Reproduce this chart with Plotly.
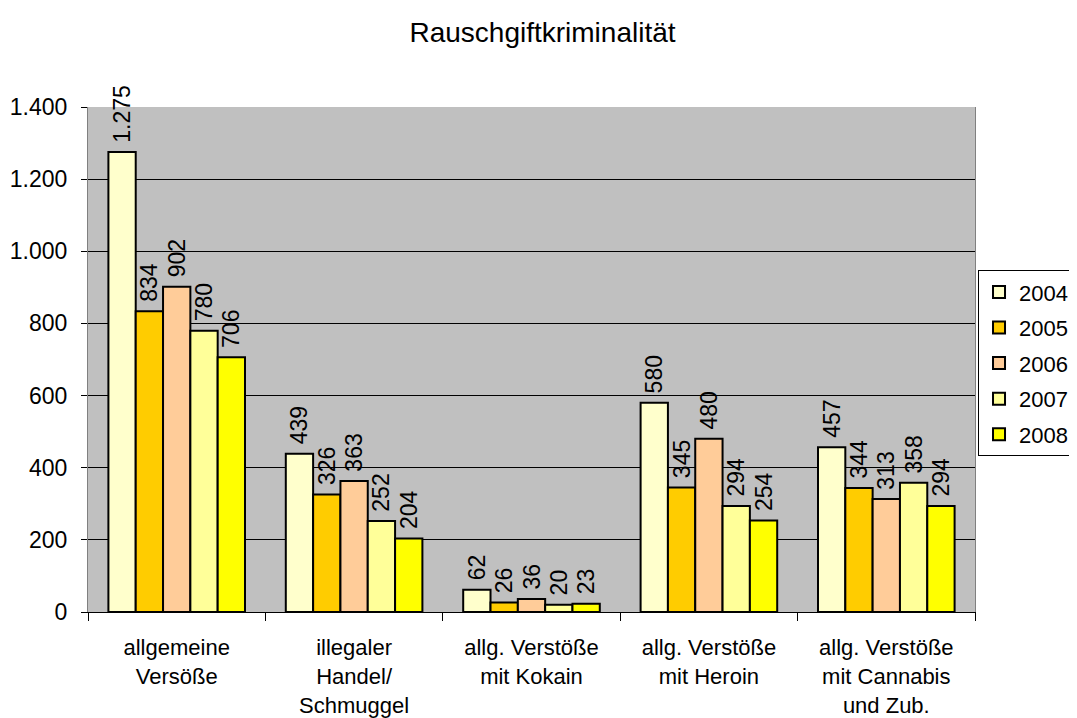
import plotly.graph_objects as go

categories = ["allgemeine<br>Versöße", "illegaler<br>Handel/<br>Schmuggel",
              "allg. Verstöße<br>mit Kokain", "allg. Verstöße<br>mit Heroin",
              "allg. Verstöße<br>mit Cannabis<br>und Zub."]
years = ["2004", "2005", "2006", "2007", "2008"]
values = {
    "2004": [1275, 439, 62, 580, 457],
    "2005": [834, 326, 26, 345, 344],
    "2006": [902, 363, 36, 480, 313],
    "2007": [780, 252, 20, 294, 358],
    "2008": [706, 204, 23, 254, 294],
}
colors = {"2004": "#FFFFCC", "2005": "#FFCC00", "2006": "#FFCC99",
          "2007": "#FFFF99", "2008": "#FFFF00"}

FONT = "Liberation Sans, Arial, sans-serif"
fig = go.Figure()
for y in years:
    fig.add_trace(go.Bar(
        name=y, x=categories, y=values[y], legendgroup=y,
        marker=dict(color=colors[y], line=dict(color="black", width=2)),
        text=values[y], texttemplate="\u00a0%{y:,}", textposition="outside",
        textangle=-90, cliponaxis=False, constraintext="none",
        textfont=dict(size=23, color="black", family=FONT),
    ))

# page body has an 8px margin, so the figure is sized/offset to compensate
fig.update_layout(
    width=1069, height=710,
    separators=",.",
    barmode="group", bargap=0.23, bargroupgap=0,
    plot_bgcolor="#C0C0C0", paper_bgcolor="white",
    font=dict(family=FONT, size=22, color="black"),
    title=dict(text="Rauschgiftkriminalität", x=0.5, xanchor="center",
               y=0.966, yanchor="middle", font=dict(size=28)),
    margin=dict(l=80, r=102, t=99, b=106, autoexpand=False),
    legend=dict(x=1.0034, y=0.677, xanchor="left", yanchor="top",
                bgcolor="white", bordercolor="black", borderwidth=1,
                font=dict(size=22), traceorder="grouped", tracegroupgap=4),
    xaxis=dict(showline=True, linecolor="black", linewidth=1,
               ticks="outside", tickson="boundaries", ticklen=8,
               tickcolor="black", showgrid=False, ticklabelstandoff=16,
               tickfont=dict(size=22)),
    yaxis=dict(range=[0, 1400], dtick=200, tickformat=",",
               showgrid=True, gridcolor="black", gridwidth=1,
               showline=True, linecolor="#808080", mirror=True,
               ticks="outside", ticklen=6, tickcolor="black",
               ticklabelstandoff=9,
               zeroline=False, tickfont=dict(size=23)),
)
fig.write_html("out.html")
